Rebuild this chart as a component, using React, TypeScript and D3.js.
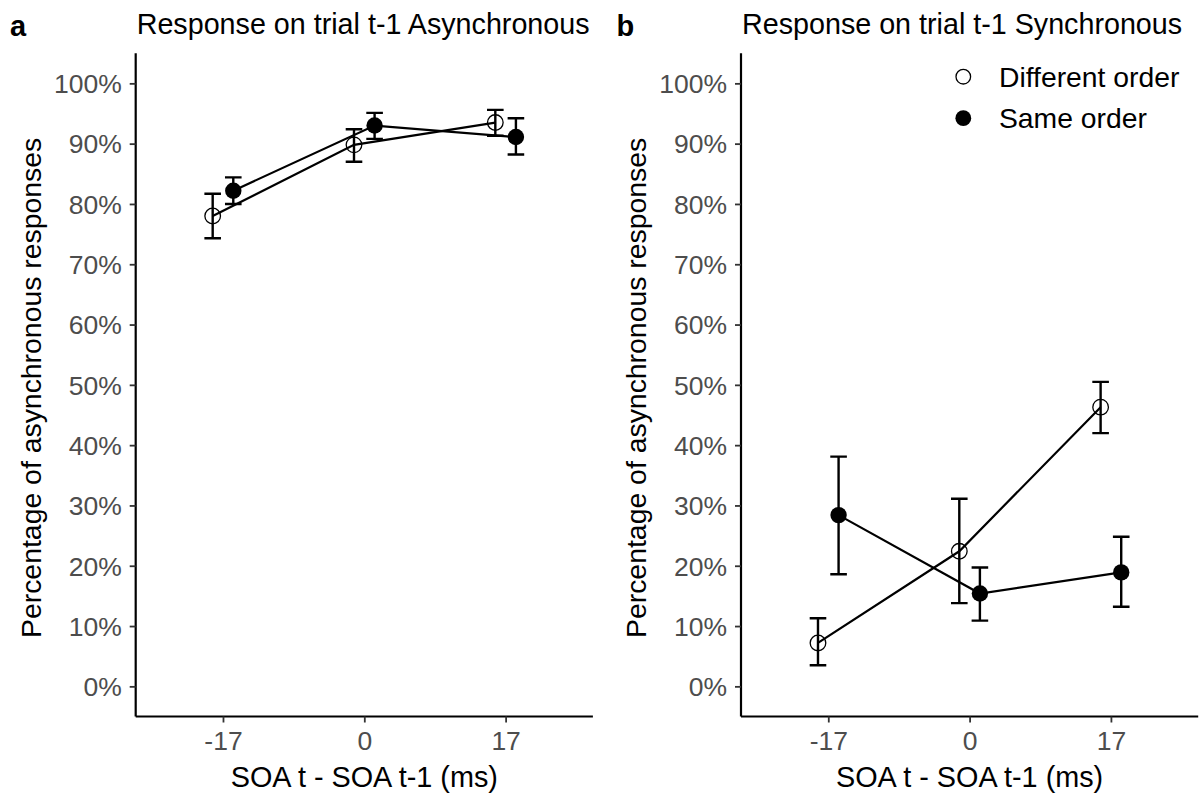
import { useEffect, useRef } from 'react';
import * as d3 from 'd3';

// SOA difference levels (ms)
const soaLevels = [-17, 0, 17];
const yTicks = [0, 10, 20, 30, 40, 50, 60, 70, 80, 90, 100];

// Panel a: response on trial t-1 asynchronous
const asyncDifferent = [78.0, 89.8, 93.5];
const asyncDifferentLow = [74.3, 87.0, 91.3];
const asyncDifferentHigh = [81.7, 92.4, 95.6];
const asyncSame = [82.2, 93.0, 91.1];
const asyncSameLow = [80.0, 90.8, 88.2];
const asyncSameHigh = [84.4, 95.1, 94.2];

// Panel b: response on trial t-1 synchronous
const syncDifferent = [7.2, 22.4, 46.3];
const syncDifferentLow = [3.5, 13.8, 42.0];
const syncDifferentHigh = [11.3, 31.1, 50.5];
const syncSame = [28.4, 15.4, 18.9];
const syncSameLow = [18.6, 10.9, 13.2];
const syncSameHigh = [38.1, 19.7, 24.8];

const groupNames = ['Different order', 'Same order'];

interface Pt {
  soa: number;
  y: number;
  lo: number;
  hi: number;
}

const zip = (ys: number[], lo: number[], hi: number[]): Pt[] =>
  soaLevels.map((soa, i) => ({ soa, y: ys[i], lo: lo[i], hi: hi[i] }));

const panels = [
  {
    tag: 'a',
    title: 'Response on trial t-1 Asynchronous',
    left: 135.7,
    groups: [zip(asyncDifferent, asyncDifferentLow, asyncDifferentHigh), zip(asyncSame, asyncSameLow, asyncSameHigh)],
    legend: false,
  },
  {
    tag: 'b',
    title: 'Response on trial t-1 Synchronous',
    left: 741,
    groups: [zip(syncDifferent, syncDifferentLow, syncDifferentHigh), zip(syncSame, syncSameLow, syncSameHigh)],
    legend: true,
  },
];

const FONT = '"Liberation Sans", Arial, sans-serif';

export default function App() {
  const svgRef = useRef<SVGSVGElement>(null);

  useEffect(() => {
    if (!svgRef.current) return;
    const width = 1203;
    const height = 794;
    const panelW = 457.2;
    const top = 53.2;
    const bottom = 716.5;

    d3.select(svgRef.current).selectAll('*').remove();
    const svg = d3
      .select(svgRef.current)
      .attr('width', width)
      .attr('height', height)
      .attr('viewBox', `0 0 ${width} ${height}`)
      .style('font-family', FONT);

    svg.append('rect').attr('width', width).attr('height', height).attr('fill', '#fff');

    const yScale = d3.scaleLinear().domain([-5, 105]).range([bottom, top]);

    panels.forEach((p, pi) => {
      const xScale = d3
        .scaleLinear()
        .domain([-27.5, 27.5])
        .range([p.left, p.left + panelW]);
      const dodge = [-10.3, 10.3];
      const g = svg.append('g');

      // y axis
      const yAxis = g
        .append('g')
        .attr('transform', `translate(${p.left},0)`)
        .call(
          d3
            .axisLeft(yScale)
            .tickValues(yTicks)
            .tickSize(6)
            .tickPadding(8)
            .tickFormat((d) => `${d}%`)
        );
      yAxis.select('.domain').attr('d', `M0,${top}V${bottom}`).attr('stroke', '#000').attr('stroke-width', 2.2);
      yAxis.selectAll('.tick line').attr('stroke', '#333').attr('stroke-width', 1.8);
      yAxis
        .selectAll('.tick text')
        .attr('fill', '#4D4D4D')
        .attr('font-size', 26.5)
        .attr('font-family', FONT)
        .attr('dy', '0.35em');

      // x axis
      const xAxis = g
        .append('g')
        .attr('transform', `translate(0,${bottom})`)
        .call(d3.axisBottom(xScale).tickValues(soaLevels).tickSize(6).tickPadding(9).tickFormat((d) => `${d}`));
      xAxis
        .select('.domain')
        .attr('d', `M${p.left},0H${p.left + panelW}`)
        .attr('stroke', '#000')
        .attr('stroke-width', 2.2);
      xAxis.selectAll('.tick line').attr('stroke', '#333').attr('stroke-width', 1.8);
      xAxis
        .selectAll('.tick text')
        .attr('fill', '#4D4D4D')
        .attr('font-size', 26.5)
        .attr('font-family', FONT)
        .attr('dy', '0.71em');

      // axis titles
      g.append('text')
        .attr('x', p.left + panelW / 2)
        .attr('y', 787)
        .attr('text-anchor', 'middle')
        .attr('font-size', 28.8)
        .text('SOA t - SOA t-1 (ms)');

      g.append('text')
        .attr('transform', `translate(${p.left - 95},${(top + bottom) / 2 + 3}) rotate(-90)`)
        .attr('text-anchor', 'middle')
        .attr('font-size', 28.4)
        .text('Percentage of asynchronous responses');

      // panel title and tag
      g.append('text').attr('x', p.left + 1).attr('y', 34).attr('font-size', 28.7).text(p.title);
      g.append('text')
        .attr('x', 10 + pi * 606.5)
        .attr('y', 36)
        .attr('font-size', 29)
        .attr('font-weight', 'bold')
        .text(p.tag);

      const line = d3
        .line<Pt>()
        .x((d) => xScale(d.soa))
        .y((d) => yScale(d.y));

      p.groups.forEach((pts, gi) => {
        const gg = g.append('g').attr('transform', `translate(${dodge[gi]},0)`);
        gg.append('path')
          .datum(pts)
          .attr('d', line)
          .attr('fill', 'none')
          .attr('stroke', '#000')
          .attr('stroke-width', 2.2);
      });

      p.groups.forEach((pts, gi) => {
        const gg = g.append('g').attr('transform', `translate(${dodge[gi]},0)`);
        const eb = gg.selectAll('g.eb').data(pts).enter().append('g').attr('class', 'eb');
        eb.append('path')
          .attr(
            'd',
            (d) =>
              `M${xScale(d.soa) - 8.3},${yScale(d.hi)}H${xScale(d.soa) + 8.3}` +
              `M${xScale(d.soa)},${yScale(d.hi)}V${yScale(d.lo)}` +
              `M${xScale(d.soa) - 8.3},${yScale(d.lo)}H${xScale(d.soa) + 8.3}`
          )
          .attr('fill', 'none')
          .attr('stroke', '#000')
          .attr('stroke-width', 2.4);
      });

      p.groups.forEach((pts, gi) => {
        const gg = g.append('g').attr('transform', `translate(${dodge[gi]},0)`);
        gg.selectAll('circle')
          .data(pts)
          .enter()
          .append('circle')
          .attr('cx', (d) => xScale(d.soa))
          .attr('cy', (d) => yScale(d.y))
          .attr('r', gi === 0 ? 7.8 : 8.2)
          .attr('fill', gi === 0 ? 'none' : '#000')
          .attr('stroke', '#000')
          .attr('stroke-width', gi === 0 ? 1.3 : 0);
      });

      if (p.legend) {
        const lg = g.append('g');
        groupNames.forEach((name, gi) => {
          const cy = 76.7 + gi * 41.5;
          lg.append('circle')
            .attr('cx', 963.3)
            .attr('cy', cy)
            .attr('r', gi === 0 ? 7.3 : 7.9)
            .attr('fill', gi === 0 ? '#fff' : '#000')
            .attr('stroke', '#000')
            .attr('stroke-width', gi === 0 ? 1.3 : 0);
          lg.append('text')
            .attr('x', 999)
            .attr('y', cy)
            .attr('dy', '0.36em')
            .attr('font-size', 28.3)
            .text(name);
        });
      }
    });
  }, []);

  return (
    <div style={{ position: 'absolute', left: 0, top: 0 }}>
      <svg ref={svgRef} />
    </div>
  );
}
